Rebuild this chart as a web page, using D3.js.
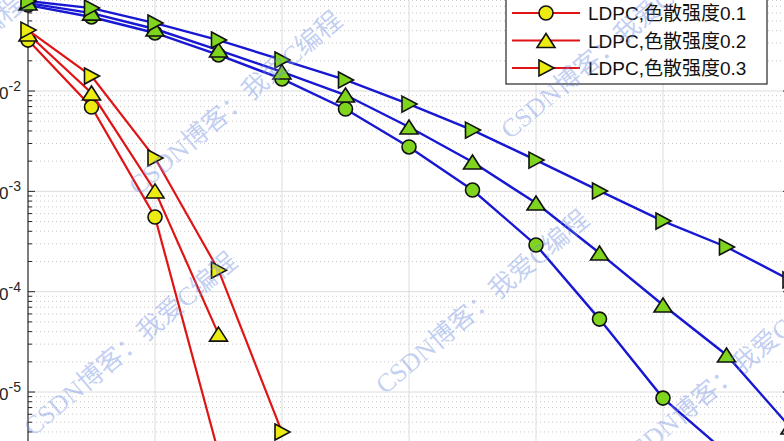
<!DOCTYPE html>
<html>
<head>
<meta charset="utf-8">
<script src="https://cdn.jsdelivr.net/npm/d3@7"></script>
<style>
html,body{margin:0;padding:0;background:#fff;overflow:hidden;}
svg{display:block;}
</style>
</head>
<body>
<svg id="chart" width="784" height="441"></svg>
<script>
// ---- data ----
const xBlue = [0, 0.5, 1, 1.5, 2, 2.5, 3, 3.5, 4, 4.5, 5, 5.5, 6];
const berBlueCircle   = [0.0719, 0.0547, 0.0379, 0.0229, 0.0132, 0.00662, 0.00277, 0.00103, 2.92e-4, 5.33e-5, 8.7e-6, 2.47e-6];
const berBlueTriUp    = [0.0753, 0.0598, 0.0415, 0.0256, 0.0155, 0.00912, 0.00438, 0.00196, 7.65e-4, 2.43e-4, 7.36e-5, 2.34e-5, 4.48e-6];
const berBlueTriRight = [0.0789, 0.0671, 0.0476, 0.0322, 0.0204, 0.0129, 0.00741, 0.00408, 0.00205, 0.00101, 5.06e-4, 2.79e-4, 1.31e-4];
const xRed = [0, 0.5, 1, 1.5, 2];
const berRedCircle   = [0.0322, 0.00693, 5.55e-4, 2.47e-6];
const berRedTriUp    = [0.0370, 0.00955, 0.00101, 3.78e-5];
const berRedTriRight = [0.0405, 0.0141, 0.00215, 1.64e-4, 3.99e-6];
const legendLabels = ["LDPC,色散强度0.1", "LDPC,色散强度0.2", "LDPC,色散强度0.3"];
const legendMarkers = ["circle", "up", "right"];
const yGridExps = [-1, -2, -3, -4, -5, -6];
const yLabelExps = [-2, -3, -4, -5];
const xTicks = [0, 1, 2, 3, 4, 5, 6];
const watermarkText = "CSDN博客：我爱C编程";

// ---- layout ----
const svg = d3.select("#chart");
const x = d3.scaleLinear().domain([0, 6]).range([28, 790]);
const y = d3.scaleLog().domain([1e-1, 1e-6]).range([-9.3, 492.35]);

svg.append("rect").attr("width", 784).attr("height", 441).attr("fill", "#fff");

const gGrid = svg.append("g");
const minorVals = [];
yGridExps.forEach(e => { for (let k = 2; k <= 9; k++) minorVals.push(k * Math.pow(10, e - 1)); });
gGrid.selectAll("line.minor").data(minorVals).enter().append("line")
  .attr("x1", x(0)).attr("x2", x(6))
  .attr("y1", d => y(d)).attr("y2", d => y(d))
  .attr("stroke", "#c8c8c8").attr("stroke-width", 1).attr("stroke-dasharray", "1,3");
gGrid.selectAll("line.majh").data(yGridExps).enter().append("line")
  .attr("x1", x(0)).attr("x2", x(6))
  .attr("y1", d => y(Math.pow(10, d))).attr("y2", d => y(Math.pow(10, d)))
  .attr("stroke", "#dcdcdc").attr("stroke-width", 1);
gGrid.selectAll("line.majv").data(xTicks.slice(1, -1)).enter().append("line")
  .attr("x1", d => x(d)).attr("x2", d => x(d))
  .attr("y1", -20).attr("y2", 500)
  .attr("stroke", "#dcdcdc").attr("stroke-width", 1);

// axes and ticks
const gAx = svg.append("g").attr("stroke", "#262626");
gAx.append("line").attr("x1", x(0)).attr("x2", x(0)).attr("y1", -20).attr("y2", 500).attr("stroke-width", 1.2);
gAx.append("line").attr("x1", x(6)).attr("x2", x(6)).attr("y1", -20).attr("y2", 500).attr("stroke-width", 1.2);
[x(0), x(6)].forEach((ax, i) => {
  const dir = i === 0 ? 1 : -1;
  gAx.selectAll(null).data(yGridExps).enter().append("line")
    .attr("x1", ax).attr("x2", ax + dir * 7)
    .attr("y1", d => y(Math.pow(10, d))).attr("y2", d => y(Math.pow(10, d))).attr("stroke-width", 1);
  gAx.selectAll(null).data(minorVals).enter().append("line")
    .attr("x1", ax).attr("x2", ax + dir * 4)
    .attr("y1", d => y(d)).attr("y2", d => y(d)).attr("stroke-width", 1);
});

// y tick labels
const gLab = svg.append("g").attr("font-family", "Liberation Sans, Arial, sans-serif").attr("fill", "#262626");
yLabelExps.forEach(e => {
  const t = gLab.append("text").attr("x", 21).attr("y", y(Math.pow(10, e)) + 8).attr("text-anchor", "end");
  t.append("tspan").attr("font-size", 17).text("10");
  t.append("tspan").attr("font-size", 14).attr("dy", -8).text(String(e));
});

// markers
function markerPath(type) {
  if (type === "circle") return d3.symbol().type(d3.symbolCircle).size(Math.PI * 7 * 7)();
  if (type === "up") return "M0,-7L9,7L-9,7Z";
  return "M-7,-8L8,0L-7,8Z";
}
const line = d3.line().x(d => x(d[0])).y(d => y(d[1]));

function drawSeries(xs, vals, color, fill, type, lw) {
  const pts = vals.map((v, i) => [xs[i], v]);
  const g = svg.append("g");
  g.append("path").attr("d", line(pts)).attr("fill", "none").attr("stroke", color).attr("stroke-width", lw);
  g.selectAll("path.m").data(pts).enter().append("path")
    .attr("d", markerPath(type))
    .attr("transform", d => `translate(${x(d[0])},${y(d[1])})`)
    .attr("fill", fill).attr("stroke", "#111").attr("stroke-width", 1.6);
}
const blue = "#1818d2", red = "#e01414", green = "#7fd41e", yellow = "#ecec12";
drawSeries(xBlue, berBlueCircle, blue, green, "circle", 2.4);
drawSeries(xBlue, berBlueTriUp, blue, green, "up", 2.4);
drawSeries(xBlue, berBlueTriRight, blue, green, "right", 2.4);
drawSeries(xRed, berRedCircle, red, yellow, "circle", 2.2);
drawSeries(xRed, berRedTriUp, red, yellow, "up", 2.2);
drawSeries(xRed, berRedTriRight, red, yellow, "right", 2.2);

// legend
const lg = svg.append("g");
lg.append("rect").attr("x", 506).attr("y", -60).attr("width", 261).attr("height", 144)
  .attr("fill", "#fff").attr("stroke", "#262626").attr("stroke-width", 1.2);
legendLabels.forEach((lab, i) => {
  const cy = 13 + i * 27.5;
  lg.append("line").attr("x1", 512).attr("x2", 580).attr("y1", cy).attr("y2", cy).attr("stroke", red).attr("stroke-width", 2.2);
  lg.append("path").attr("d", markerPath(legendMarkers[i])).attr("transform", `translate(546,${cy})`)
    .attr("fill", yellow).attr("stroke", "#111").attr("stroke-width", 1.6);
  lg.append("text").attr("x", 588).attr("y", cy + 7).attr("font-size", 19)
    .attr("font-family", "Liberation Sans, Arial, 'Noto Sans CJK SC', sans-serif").attr("fill", "#111").text(lab);
});

// watermarks
const wmStarts = [[33, 437], [138, 196], [385, 395], [510, 140], [628, 470], [-180, 180]];
const wg = svg.append("g");
wmStarts.forEach(p => {
  wg.append("text").attr("transform", `translate(${p[0]},${p[1]}) rotate(-40)`)
    .attr("font-size", 26).attr("font-family", "Liberation Serif, 'Noto Sans CJK SC', serif")
    .attr("fill", "rgba(110,140,225,0.42)").text(watermarkText);
});
</script>
</body>
</html>
